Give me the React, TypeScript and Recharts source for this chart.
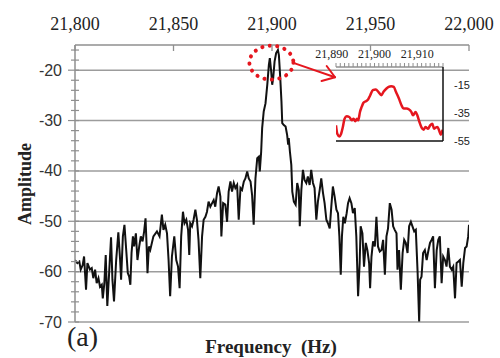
import React from 'react';
import { LineChart, Line, XAxis, YAxis, CartesianGrid, ReferenceDot, ReferenceLine } from 'recharts';

const FREQ_HZ = [
  21800.0, 21801.2, 21802.2, 21802.9, 21803.9, 21804.6, 21805.6, 21806.3, 21807.6, 21808.5,
  21809.3, 21810.2, 21811.0, 21811.9, 21812.7, 21813.6, 21814.1, 21814.9, 21815.6, 21816.4,
  21817.5, 21818.3, 21819.0, 21819.8, 21820.9, 21822.0, 21822.9, 21823.4, 21824.3, 21825.1,
  21826.0, 21826.8, 21827.5, 21828.1, 21828.7, 21829.4, 21830.0, 21830.9, 21831.7, 21832.6,
  21833.4, 21834.3, 21835.1, 21835.8, 21836.3, 21836.8, 21837.5, 21838.2, 21839.8, 21841.6,
  21842.9, 21844.1, 21844.9, 21845.8, 21846.7, 21847.5, 21848.3, 21849.2, 21850.4, 21851.4,
  21852.3, 21853.1, 21853.9, 21854.8, 21855.6, 21856.5, 21857.4, 21858.0, 21858.5, 21859.4,
  21860.2, 21861.1, 21861.9, 21862.7, 21863.6, 21864.5, 21865.3, 21866.2, 21867.0, 21867.8,
  21868.7, 21869.6, 21870.4, 21871.2, 21872.1, 21872.9, 21873.8, 21874.3, 21875.2, 21876.3,
  21877.2, 21878.0, 21878.9, 21879.7, 21880.6, 21881.4, 21882.3, 21883.1, 21884.0, 21884.8,
  21885.7, 21886.5, 21887.4, 21888.2, 21889.1, 21889.9, 21890.7, 21891.6, 21892.5, 21893.3,
  21893.8, 21894.5, 21895.0, 21895.8, 21896.7, 21897.6, 21898.4, 21898.9, 21899.6, 21900.1,
  21900.6, 21901.3, 21902.1, 21903.0, 21903.5, 21904.2, 21904.8, 21905.2, 21906.0, 21906.9,
  21907.7, 21908.2, 21908.5, 21909.1, 21909.8, 21910.3, 21911.1, 21912.0, 21912.8, 21913.6,
  21914.1, 21914.9, 21915.7, 21916.5, 21917.4, 21918.2, 21919.1, 21919.9, 21920.8, 21921.6,
  21922.5, 21923.3, 21924.2, 21925.0, 21925.9, 21926.7, 21927.6, 21928.4, 21929.3, 21930.1,
  21930.9, 21931.8, 21932.7, 21933.5, 21934.2, 21934.9, 21935.5, 21936.2, 21937.0, 21937.9,
  21938.6, 21939.4, 21940.3, 21941.1, 21942.0, 21942.8, 21943.7, 21944.5, 21945.0, 21945.9,
  21946.7, 21947.6, 21948.4, 21949.3, 21949.8, 21950.5, 21951.3, 21952.2, 21953.0, 21953.8,
  21954.7, 21955.6, 21956.4, 21957.3, 21958.1, 21958.9, 21959.8, 21960.7, 21961.5, 21962.3,
  21963.2, 21963.7, 21964.5, 21965.4, 21966.3, 21967.1, 21967.9, 21968.8, 21969.6, 21970.5,
  21971.3, 21972.2, 21973.0, 21973.9, 21974.7, 21975.2, 21975.9, 21976.7, 21977.6, 21978.5,
  21979.3, 21980.2, 21981.0, 21981.8, 21982.7, 21983.6, 21984.4, 21985.2, 21986.1, 21986.9,
  21987.8, 21988.6, 21989.5, 21990.3, 21991.2, 21992.0, 21992.9, 21993.7, 21994.6, 21995.4,
  21996.3, 21997.1, 21998.0, 21998.8, 21999.6, 22000.0,
];

const AMPLITUDE = [
  -57.7, -58.3, -58.0, -59.6, -58.7, -57.0, -63.6, -58.3, -59.6, -59.3,
  -61.3, -59.6, -62.3, -61.3, -63.0, -62.6, -65.3, -62.3, -56.7, -66.8,
  -59.0, -53.2, -61.6, -65.9, -57.7, -52.2, -57.7, -61.6, -53.0, -50.7,
  -55.7, -60.3, -61.0, -62.6, -56.3, -53.0, -55.0, -52.4, -57.7, -55.0,
  -53.0, -54.0, -52.0, -49.4, -54.3, -60.3, -55.0, -55.7, -53.0, -52.0,
  -53.0, -48.7, -51.7, -50.7, -52.4, -57.7, -64.9, -57.0, -53.0, -57.7,
  -59.0, -63.3, -53.0, -48.1, -50.4, -49.7, -51.7, -56.7, -50.4, -51.0,
  -49.7, -47.7, -49.7, -53.7, -61.3, -53.0, -49.7, -49.1, -48.1, -46.1,
  -47.1, -46.4, -45.8, -47.1, -44.4, -43.1, -45.1, -53.0, -46.4, -46.7,
  -50.1, -44.1, -42.1, -44.1, -42.4, -43.4, -42.8, -49.7, -43.4, -43.8,
  -42.1, -41.5, -40.1, -41.5, -42.1, -44.8, -50.7, -41.5, -37.5, -37.2,
  -40.1, -36.2, -31.5, -28.2, -26.6, -22.9, -19.0, -17.6, -20.3, -22.9,
  -21.6, -18.3, -16.6, -16.0, -17.0, -21.6, -26.2, -30.5, -30.9, -31.2,
  -32.9, -34.8, -33.5, -36.2, -38.8, -44.1, -46.1, -46.7, -42.4, -43.8,
  -51.0, -43.8, -39.8, -41.8, -42.4, -41.1, -42.8, -39.8, -42.4, -43.4,
  -49.7, -46.1, -43.8, -41.5, -44.4, -46.4, -49.7, -50.4, -51.4, -47.1,
  -43.1, -45.1, -47.7, -48.4, -53.0, -60.6, -53.0, -49.1, -50.4, -48.4,
  -46.4, -45.4, -46.4, -48.4, -47.4, -53.0, -64.9, -58.3, -51.0, -52.4,
  -59.0, -54.3, -55.7, -58.3, -63.3, -57.0, -54.0, -55.0, -49.1, -55.0,
  -56.0, -55.7, -53.7, -60.6, -53.0, -51.4, -46.4, -47.7, -51.0, -51.7,
  -52.4, -59.6, -55.7, -63.6, -56.3, -53.7, -54.3, -56.3, -51.0, -50.1,
  -51.0, -52.0, -51.7, -60.0, -69.9, -61.6, -61.0, -56.3, -55.7, -57.7,
  -56.0, -54.3, -53.7, -53.0, -63.3, -55.7, -53.7, -53.0, -62.3, -57.0,
  -57.7, -59.0, -55.3, -59.0, -59.6, -59.0, -65.3, -58.3, -58.0, -57.7,
  -63.0, -58.3, -55.3, -55.0, -53.0, -50.7,
];

const X_TICKS = [21800, 21850, 21900, 21950, 22000];
const Y_TICKS = [-70, -68, -66, -64, -62, -60, -58, -56, -54, -52, -50, -48, -46, -44, -42, -40, -38, -36, -34, -32, -30, -28, -26, -24, -22, -20, -18, -16];
const Y_LABELED = [-70, -60, -50, -40, -30, -20];

const INSET_FREQ = [
  21891.0, 21891.3, 21891.8, 21892.2, 21892.6, 21893.0, 21893.5, 21894.1, 21894.7, 21895.1,
  21895.5, 21895.9, 21896.2, 21896.6, 21897.0, 21897.4, 21898.0, 21898.5, 21899.0, 21899.6,
  21900.3, 21900.9, 21901.6, 21902.1, 21902.8, 21903.3, 21903.9, 21904.5, 21905.0, 21905.7,
  21906.3, 21906.8, 21907.5, 21908.0, 21908.6, 21909.0, 21909.6, 21910.0, 21910.5, 21911.0,
  21911.5, 21911.9, 21912.5, 21913.0, 21913.5, 21913.9, 21914.3, 21914.7, 21915.1, 21915.5,
  21915.9,
];
const INSET_AMP = [
  -43.8, -49.8, -51.7, -49.8, -45.0, -39.0, -37.3, -37.8, -40.2, -39.0,
  -40.9, -39.0, -40.2, -34.2, -30.6, -27.7, -26.5, -25.3, -22.2, -18.6,
  -18.1, -19.8, -22.2, -19.8, -17.4, -16.2, -15.7, -16.2, -19.8, -24.6,
  -29.4, -31.8, -31.8, -32.3, -34.2, -36.6, -34.2, -36.6, -41.4, -45.4,
  -46.9, -45.0, -46.2, -43.8, -42.6, -46.2, -45.4, -45.0, -47.4, -50.5,
  -46.9,
];
const INSET_X_TICKS = [
  21890, 21891, 21892, 21893, 21894, 21895, 21896, 21897, 21898, 21899, 21900,
  21901, 21902, 21903, 21904, 21905, 21906, 21907, 21908, 21909, 21910,
  21911, 21912, 21913, 21914, 21915, 21916,
];
const INSET_X_LABELED = [21890, 21900, 21910];
const INSET_Y_LABELS = [-55, -35, -15];
const INSET_Y_MINOR = [-55, -50, -45, -40, -35, -30, -25, -20, -15, -10, -5];

const mainData = FREQ_HZ.map((f, i) => ({ f, a: AMPLITUDE[i] }));
const insetData = INSET_FREQ.map((f, i) => ({ f, a: INSET_AMP[i] }));

const fmtThousands = (v: number) => v.toLocaleString('en-US');

const RED = '#e5161e';
const AXIS_GRAY = '#8f8f8f';
const SERIF = '"Liberation Serif", "Times New Roman", serif';
const SANS = '"Liberation Sans", Arial, sans-serif';

const TopTick = (props: any) => {
  const { x, y, payload } = props;
  return (
    <g>
      <line x1={x} y1={y} x2={x} y2={y + 6} stroke={AXIS_GRAY} strokeWidth={1.3} />
      <text x={x} y={y - 15} textAnchor="middle" fontFamily={SERIF} fontSize={18} fill="#222">
        {fmtThousands(payload.value)}
      </text>
    </g>
  );
};

const LeftTick = (props: any) => {
  const { x, y, payload } = props;
  const major = Y_LABELED.includes(payload.value);
  return (
    <g>
      <line x1={x - (major ? 7 : 4)} y1={y} x2={x + 4} y2={y} stroke={AXIS_GRAY} strokeWidth={1.2} />
      {major && (
        <text x={x - 13} y={y + 5.5} textAnchor="end" fontFamily={SANS} fontSize={16} fill="#333">
          {payload.value}
        </text>
      )}
    </g>
  );
};

const InsetTopTick = (props: any) => {
  const { x, y, payload } = props;
  const labeled = INSET_X_LABELED.includes(payload.value);
  return (
    <g>
      {payload.value > 21890 && (
        <line x1={x} y1={y} x2={x} y2={y - 4} stroke={AXIS_GRAY} strokeWidth={1} />
      )}
      {labeled && (
        <text x={x} y={y - 9} textAnchor="middle" fontFamily={SERIF} fontSize={12} fill="#222">
          {fmtThousands(payload.value)}
        </text>
      )}
    </g>
  );
};

const InsetLeftTick = (props: any) => {
  const { x, y } = props;
  return <line x1={x - 3} y1={y} x2={x + 3} y2={y} stroke={AXIS_GRAY} strokeWidth={1} />;
};

const InsetRightTick = (props: any) => {
  const { x, y, payload } = props;
  return (
    <text x={x + 11} y={y + 4} textAnchor="start" fontFamily={SANS} fontSize={11} fill="#222">
      {payload.value}
    </text>
  );
};

const PeakCircle = (props: any) => {
  const { cx, cy } = props;
  return (
    <ellipse
      cx={cx}
      cy={cy}
      rx={22}
      ry={17}
      fill="none"
      stroke={RED}
      strokeWidth={4}
      strokeDasharray="0.1 7.4"
      strokeLinecap="round"
    />
  );
};

const Arrow = (props: any) => {
  const { x1, y1, x2, y2 } = props;
  const ang = Math.atan2(y2 - y1, x2 - x1);
  const L = 14;
  const w = 0.6;
  const ax = x2 - L * Math.cos(ang - w);
  const ay = y2 - L * Math.sin(ang - w);
  const bx = x2 - L * Math.cos(ang + w);
  const by = y2 - L * Math.sin(ang + w);
  return (
    <g stroke={RED} strokeWidth={2} fill="none" strokeLinecap="round" strokeLinejoin="round">
      <line x1={x1} y1={y1} x2={x2} y2={y2} />
      <polyline points={`${ax},${ay} ${x2},${y2} ${bx},${by}`} />
    </g>
  );
};

export default function App() {
  return (
    <div style={{ position: 'absolute', left: 0, top: 0, width: 500, height: 358, background: '#fff' }}>
      <div style={{ position: 'absolute', left: 0, top: 0 }}>
        <LineChart width={500} height={358} data={mainData} margin={{ top: 0, right: 31, bottom: 36, left: 0 }}>
          <CartesianGrid
            vertical={false}
            horizontalValues={Y_LABELED}
            stroke="#9c9c9c"
            strokeWidth={1.5}
          />
          <XAxis
            dataKey="f"
            type="number"
            orientation="top"
            domain={[21800, 22000]}
            allowDataOverflow
            ticks={X_TICKS}
            interval={0}
            height={45}
            tickSize={0}
            tickMargin={0}
            tickLine={false}
            axisLine={{ stroke: AXIS_GRAY, strokeWidth: 1.5 }}
            tick={<TopTick />}
          />
          <YAxis
            type="number"
            domain={[-70, -15]}
            allowDataOverflow
            ticks={Y_TICKS}
            interval={0}
            width={75}
            tickSize={0}
            tickMargin={0}
            tickLine={false}
            axisLine={{ stroke: AXIS_GRAY, strokeWidth: 1.5 }}
            tick={<LeftTick />}
          />
          <Line
            dataKey="a"
            type="linear"
            stroke="#111"
            strokeWidth={2}
            dot={false}
            isAnimationActive={false}
          />
          <ReferenceDot x={21899.7} y={-18.5} r={20} shape={PeakCircle} />
          <ReferenceLine
            segment={[
              { x: 21911.2, y: -18.6 },
              { x: 21932.0, y: -21.4 },
            ]}
            shape={Arrow}
          />
        </LineChart>
      </div>
      <div style={{ position: 'absolute', left: 300, top: 30 }}>
        <LineChart width={190} height={130} data={insetData} margin={{ top: 0, right: 0, bottom: 19, left: 36 }}>
          <XAxis
            dataKey="f"
            type="number"
            orientation="top"
            domain={[21891, 21916]}
            allowDataOverflow
            ticks={INSET_X_TICKS}
            interval={0}
            height={37}
            tickSize={0}
            tickMargin={0}
            tickLine={false}
            axisLine={{ stroke: AXIS_GRAY, strokeWidth: 1.5 }}
            tick={<InsetTopTick />}
          />
          <YAxis
            yAxisId="l"
            orientation="left"
            type="number"
            domain={[-55, -2]}
            allowDataOverflow
            ticks={INSET_Y_MINOR}
            interval={0}
            width={0}
            tickSize={0}
            tickMargin={0}
            tickLine={false}
            axisLine={{ stroke: AXIS_GRAY, strokeWidth: 1.5 }}
            tick={<InsetLeftTick />}
          />
          <YAxis
            yAxisId="r"
            orientation="right"
            type="number"
            domain={[-55, -2]}
            allowDataOverflow
            ticks={INSET_Y_LABELS}
            interval={0}
            width={47}
            tickSize={0}
            tickMargin={0}
            tickLine={false}
            axisLine={{ stroke: '#111', strokeWidth: 1.5 }}
            tick={<InsetRightTick />}
          />
          <ReferenceLine yAxisId="r" y={-55} stroke="#111" strokeWidth={1.5} />
          <Line
            yAxisId="r"
            dataKey="a"
            type="monotone"
            stroke={RED}
            strokeWidth={2.5}
            dot={false}
            isAnimationActive={false}
          />
        </LineChart>
      </div>
      <svg width={500} height={358} style={{ position: 'absolute', left: 0, top: 0, pointerEvents: 'none' }}>
        <text
          x={25}
          y={184}
          transform="rotate(-90 25 184)"
          textAnchor="middle"
          dominantBaseline="central"
          fontFamily={SERIF}
          fontWeight="bold"
          fontSize={18}
          fill="#222"
        >
          Amplitude
        </text>
        <text x={271} y={353} textAnchor="middle" fontFamily={SERIF} fontWeight="bold" fontSize={19} fill="#222" xmlSpace="preserve">
          Frequency  (Hz)
        </text>
        <text x={67} y={346} fontFamily={SERIF} fontSize={28} fill="#222">
          (a)
        </text>
      </svg>
    </div>
  );
}
